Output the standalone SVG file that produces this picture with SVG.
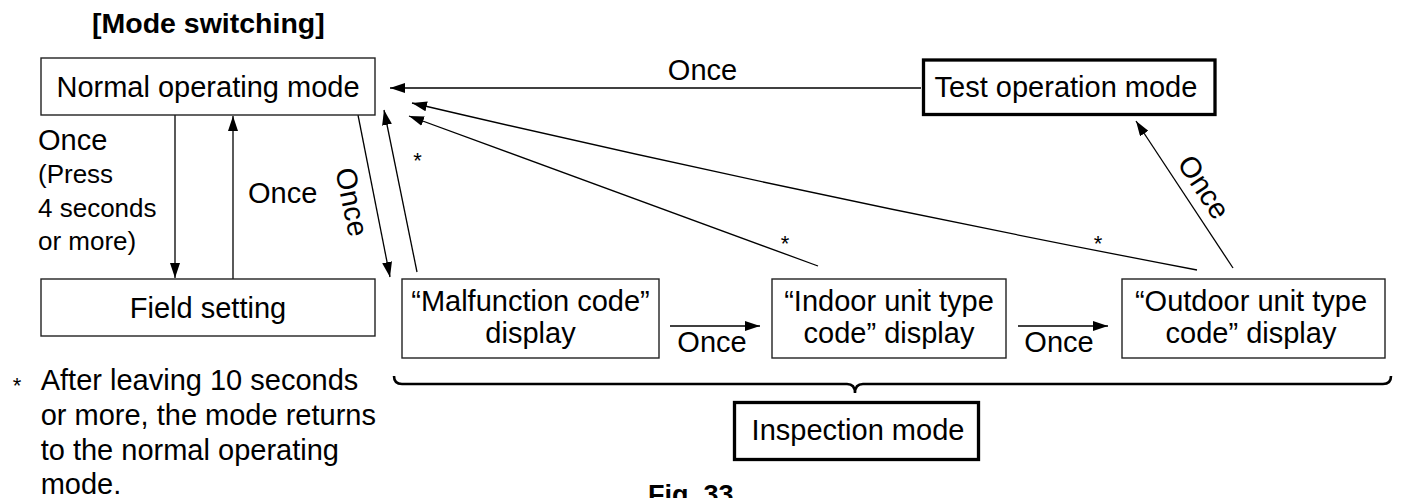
<svg xmlns="http://www.w3.org/2000/svg" width="1402" height="498" viewBox="0 0 1402 498">
<defs>
<style>
text{font-family:"Liberation Sans",Arial,sans-serif;fill:#000;}
.t{font-size:29px;}
.m{text-anchor:middle;}
.s{font-size:26px;}
.st{font-size:22px;text-anchor:middle;}
.b{font-weight:bold;}
.box{fill:#fff;stroke:#222;stroke-width:1.4;}
.thick{fill:#fff;stroke:#000;stroke-width:3.3;}
.ln{fill:none;stroke:#000;stroke-width:1.3;}
.arr{marker-end:url(#ah);}
.brace{fill:none;stroke:#000;stroke-width:2.6;}
</style>
<marker id="ah" markerUnits="userSpaceOnUse" markerWidth="16" markerHeight="10" refX="15" refY="5" orient="auto">
<path d="M0,0 L15,5 L0,10 z" fill="#000"/>
</marker>
</defs>
<rect width="1402" height="498" fill="#fff"/>
<text class="b" x="92" y="33" style="font-size:28.5px">[Mode switching]</text>

<g id="connectors">
<line class="ln arr" x1="921" y1="88" x2="390" y2="88"/>
<line class="ln arr" x1="175" y1="115" x2="175" y2="278"/>
<line class="ln arr" x1="233" y1="279" x2="233" y2="116"/>
<line class="ln arr" x1="358" y1="115" x2="390" y2="277"/>
<line class="ln arr" x1="417" y1="272" x2="384" y2="110"/>
<path class="ln arr" d="M1197,270 Q804,195 412,103"/>
<line class="ln arr" x1="818" y1="266" x2="409" y2="116"/>
<line class="ln arr" x1="1233" y1="268" x2="1136" y2="121"/>
<line class="ln arr" x1="670" y1="326" x2="760" y2="326"/>
<line class="ln arr" x1="1018" y1="326" x2="1108" y2="326"/>
<path class="brace" d="M394,376 Q394,384 402,384 L847,384 Q855,384 855,393 Q855,384 863,384 L1383,384 Q1391,384 1391,376"/>
<text class="t m" x="702.5" y="80">Once</text>
<text class="t" x="38" y="150">Once</text>
<text class="s" x="38" y="183">(Press</text>
<text class="s" x="38" y="217">4 seconds</text>
<text class="s" x="38" y="250">or more)</text>
<text class="t" x="248" y="203">Once</text>
<text class="t m" transform="translate(352,202) rotate(78.5)" x="0" y="10">Once</text>
<text class="t m" transform="translate(1204,187) rotate(56.6)" x="0" y="10">Once</text>
<text class="t m" x="712" y="352">Once</text>
<text class="t m" x="1059" y="352">Once</text>
<text class="st" x="417.5" y="167.5">*</text>
<text class="st" x="785" y="250.5">*</text>
<text class="st" x="1098" y="250.5">*</text>
</g>

<g id="normal">
<rect class="box" x="41" y="58" width="334" height="57"/>
<text class="t m" x="208" y="97">Normal operating mode</text>
</g>
<g id="field">
<rect class="box" x="41" y="279" width="334" height="57"/>
<text class="t m" x="208" y="318">Field setting</text>
</g>
<g id="test">
<rect class="thick" x="923.5" y="60" width="291.5" height="54.5"/>
<text class="t m" x="1066" y="97">Test operation mode</text>
</g>
<g id="malfunction">
<rect class="box" x="402" y="279" width="257" height="79"/>
<text class="t m" x="530.5" y="311">“Malfunction code”</text>
<text class="t m" x="530.5" y="343">display</text>
</g>
<g id="indoor">
<rect class="box" x="772" y="279" width="234" height="79"/>
<text class="t m" x="889" y="311">“Indoor unit type</text>
<text class="t m" x="889" y="343">code” display</text>
</g>
<g id="outdoor">
<rect class="box" x="1122" y="279" width="263" height="79"/>
<text class="t m" x="1251" y="311">“Outdoor unit type</text>
<text class="t m" x="1251" y="343">code” display</text>
</g>
<g id="inspection">
<rect class="thick" x="734.5" y="402.5" width="244" height="57"/>
<text class="t m" x="858" y="440">Inspection mode</text>
</g>

<g id="footnote">
<text class="st" x="17" y="392.5">*</text>
<text class="t" x="40.7" y="390">After leaving 10 seconds</text>
<text class="t" x="40.7" y="425">or more, the mode returns</text>
<text class="t" x="40.7" y="460">to the normal operating</text>
<text class="t" x="40.7" y="494">mode.</text>
</g>
<text class="b" x="648" y="504" style="font-size:27px">Fig. 33</text>
</svg>
